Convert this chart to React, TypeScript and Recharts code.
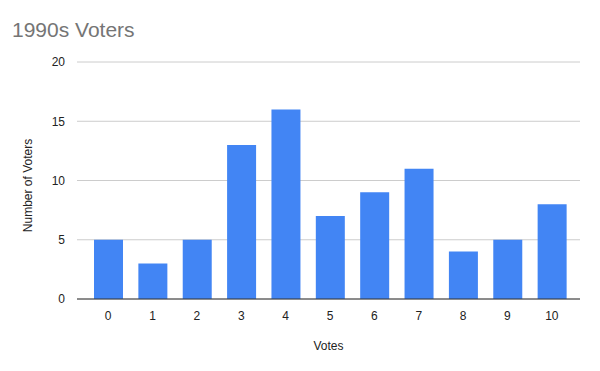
import React from 'react';
import { BarChart, Bar, XAxis, YAxis, CartesianGrid } from 'recharts';

const categories = ['0', '1', '2', '3', '4', '5', '6', '7', '8', '9', '10'];
const voters = [5, 3, 5, 13, 16, 7, 9, 11, 4, 5, 8];
const yTicks = [0, 5, 10, 15, 20];

const data = categories.map((c, i) => ({ votes: c, voters: voters[i] }));

const FONT = '"Liberation Sans", Arial, sans-serif';

const YLabel = (props: any) => {
  const vb = props.viewBox || {};
  const cx = 32;
  const cy = (vb.y ?? 62) + (vb.height ?? 237) / 2 + 5;
  return (
    <text
      x={cx}
      y={cy}
      transform={`rotate(-90, ${cx}, ${cy})`}
      textAnchor="middle"
      fill="#222222"
      fontSize={12}
      fontFamily={FONT}
    >
      Number of Voters
    </text>
  );
};

export default function App() {
  return (
    <div style={{ position: 'absolute', left: 0, top: 0, width: 600, height: 371, background: '#fff' }}>
      <div style={{ position: 'absolute', left: 12, top: 18, fontFamily: FONT, fontSize: 21, color: '#757575' }}>
        1990s Voters
      </div>
      <BarChart
        width={600}
        height={371}
        data={data}
        margin={{ top: 62, right: 20, left: 0, bottom: 42 }}
      >
        <CartesianGrid vertical={false} stroke="#cccccc" />
        <XAxis
          dataKey="votes"
          height={30}
          padding={{ left: 9, right: 6 }}
          tickLine={false}
          axisLine={{ stroke: '#333333' }}
          tick={{ fill: '#222222', fontSize: 12, fontFamily: FONT }}
          tickMargin={6}
          label={{ value: 'Votes', position: 'bottom', offset: 12, fill: '#222222', fontSize: 12, fontFamily: FONT }}
        />
        <YAxis
          width={77}
          domain={[0, 20]}
          ticks={yTicks}
          tickLine={false}
          axisLine={false}
          tick={{ fill: '#222222', fontSize: 12, fontFamily: FONT }}
          tickMargin={6}
          label={<YLabel />}
        />
        <Bar dataKey="voters" fill="#4285f4" barSize={29} isAnimationActive={false} />
      </BarChart>
    </div>
  );
}
